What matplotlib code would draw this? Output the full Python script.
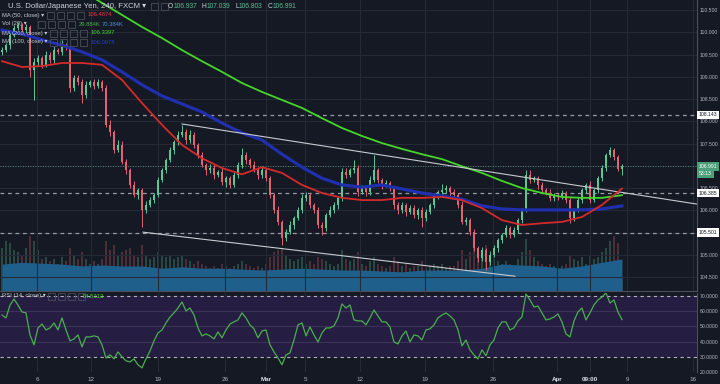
import matplotlib.pyplot as plt
from matplotlib.patches import Rectangle
import numpy as np

# USD/JPY 4h candles (FXCM)
closes = [109.60, 109.71, 109.94, 110.10, 110.16, 110.05, 110.12, 109.15, 109.33, 109.42,
          109.26, 109.49, 109.38, 109.60, 109.56, 109.71, 109.65, 108.75, 108.97, 108.88,
          108.59, 108.82, 108.88, 108.79, 108.88, 108.75, 107.92, 107.76, 107.35, 107.47,
          107.09, 106.90, 106.57, 106.34, 106.45, 106.01, 106.12, 106.23, 106.34, 106.68,
          106.90, 107.13, 107.35, 107.53, 107.69, 107.76, 107.58, 107.69, 107.47, 107.24,
          107.02, 106.90, 106.95, 106.79, 106.86, 106.63, 106.72, 106.57, 106.79, 107.02,
          107.24, 107.13, 107.02, 106.90, 106.79, 106.90, 106.72, 106.34, 106.01, 105.74,
          105.38, 105.51, 105.67, 105.83, 106.01, 106.27, 106.34, 106.12, 106.01, 105.67,
          105.60, 105.89, 106.01, 106.12, 106.27, 106.86, 106.79, 106.90, 106.95, 106.41,
          106.50, 106.41, 106.68, 106.90, 106.68, 106.57, 106.61, 106.50, 106.12, 106.01,
          106.12, 105.96, 106.05, 105.89, 106.01, 105.83, 105.96, 106.12, 106.34, 106.41,
          106.45, 106.50, 106.41, 106.34, 106.12, 105.74, 105.78, 105.51, 105.15, 104.93,
          105.11, 104.84, 105.00, 105.15, 105.33, 105.44, 105.60, 105.44, 105.56, 105.78,
          106.01, 106.79, 106.68, 106.72, 106.57, 106.45, 106.39, 106.27, 106.34, 106.30,
          106.39, 106.23, 105.83, 106.01, 106.23, 106.45, 106.57, 106.23, 106.45, 106.72,
          106.95, 107.24, 107.35, 107.20, 106.937, 106.991]
first_open = 109.55
wick_hi = [.08, .06, .05, .06, .08, .05, .06, .05, .10, .06,
           .05, .08, .06, .10, .05, .12, .06, .05, .08, .06,
           .06, .08, .05, .06, .08, .05, .06, .10, .05, .12,
           .08, .06, .05, .10, .06, .05, .08, .06, .05, .06,
           .06, .05, .08, .06, .10, .16, .06, .12, .06, .05,
           .06, .05, .08, .06, .05, .10, .06, .05, .08, .06,
           .16, .06, .05, .08, .06, .10, .05, .06, .05, .08,
           .05, .06, .08, .05, .06, .10, .08, .06, .05, .06,
           .06, .05, .08, .06, .05, .10, .08, .06, .18, .06,
           .06, .05, .08, .34, .06, .05, .08, .06, .05, .06,
           .06, .05, .08, .06, .05, .06, .08, .05, .06, .05,
           .15, .06, .05, .06, .05, .08, .06, .05, .06, .05,
           .06, .05, .08, .06, .05, .06, .08, .05, .06, .05,
           .05, .11, .12, .06, .05, .06, .05, .08, .06, .05,
           .06, .05, .06, .05, .08, .06, .05, .08, .06, .05,
           .06, .05, .07, .06, .05, .05]
wick_lo = [.06, .05, .08, .05, .06, .05, .06, .15, .67, .08,
           .06, .05, .08, .06, .05, .06, .05, .10, .06, .06,
           .18, .06, .05, .06, .05, .06, .05, .08, .06, .05,
           .06, .08, .06, .05, .08, .39, .06, .05, .06, .05,
           .05, .06, .05, .08, .06, .05, .10, .06, .08, .06,
           .05, .10, .06, .08, .05, .06, .10, .06, .05, .06,
           .06, .08, .06, .05, .08, .06, .05, .06, .08, .06,
           .16, .06, .05, .08, .05, .06, .05, .06, .08, .06,
           .16, .06, .05, .06, .08, .05, .06, .05, .06, .08,
           .05, .08, .06, .05, .06, .08, .05, .06, .08, .10,
           .06, .08, .05, .06, .08, .21, .06, .05, .06, .08,
           .05, .06, .08, .05, .06, .05, .08, .06, .06, .10,
           .06, .18, .06, .05, .08, .06, .05, .06, .05, .06,
           .06, .05, .06, .05, .08, .06, .05, .06, .05, .06,
           .05, .06, .12, .06, .05, .06, .05, .06, .05, .06,
           .05, .06, .05, .06, .06, .14]
volumes = [95, 110, 105, 90, 85, 80, 95, 120, 110, 90,
           70, 75, 65, 70, 60, 75, 65, 95, 80, 70,
           85, 70, 60, 65, 60, 70, 110, 90, 100, 80,
           85, 90, 95, 80, 75, 100, 80, 70, 75, 85,
           80, 75, 80, 70, 75, 80, 70, 65, 60, 65,
           60, 55, 50, 55, 50, 60, 55, 50, 55, 60,
           65, 60, 55, 50, 55, 50, 60, 75, 85, 90,
           95, 80, 70, 65, 70, 75, 60, 65, 60, 75,
           70, 65, 60, 55, 60, 90, 70, 65, 70, 85,
           60, 55, 65, 75, 60, 55, 50, 55, 75, 65,
           55, 60, 50, 55, 55, 65, 50, 55, 60, 55,
           60, 50, 55, 55, 65, 90, 70, 85, 105, 95,
           85, 100, 75, 70, 65, 60, 65, 60, 55, 70,
           85, 115, 90, 75, 65, 60, 55, 60, 55, 50,
           55, 60, 80, 70, 65, 75, 60, 80, 70, 75,
           85, 95, 110, 120, 105, 30]
rsi = [57.5, 55.6, 64, 68, 64, 59.5, 58.9, 44.4, 37.9, 49,
       51.6, 47.7, 49, 52.3, 47.7, 55.6, 47.7, 40.5, 41.8, 44.4,
       36.6, 43.1, 43.1, 43.8, 43.1, 37.9, 29.3, 31.3, 28.7, 33.3,
       30, 27.4, 26.7, 28.7, 24.8, 22.8, 28.7, 33.9, 40.5, 45.7,
       47.7, 52.3, 56.2, 58.9, 62.1, 66.1, 60.2, 62.1, 57.5, 49,
       43.8, 45.1, 43.8, 41.8, 46.4, 42.5, 47.7, 51.6, 53, 54.3,
       58.9, 55.6, 51, 48.4, 42.5, 47, 47.7, 37.9, 33.3, 29.3,
       24.8, 31.3, 32.6, 41.1, 51, 52.3, 43.8, 49.7, 44.4, 39.8,
       45.7, 49, 49, 50.3, 55.6, 64.8, 62.1, 64.1, 54.3, 53.6,
       53.6, 51, 55.6, 60.8, 56.9, 53, 53, 49.7, 39.8, 38.5,
       43.8, 47, 39.8, 44.4, 43.8, 41.1, 47.7, 48.4, 51, 55.6,
       57.5, 58.9, 56.9, 54.3, 47.7, 37.2, 41.1, 34.6, 31.3, 28.7,
       34.6, 30.7, 37.9, 41.1, 49, 53, 53, 47.7, 49, 53.6,
       56.2, 71.3, 67.4, 62.8, 63.4, 58.9, 54.3, 54.9, 56.2, 58.2,
       53, 45.1, 43.1, 53.6, 59.5, 62.1, 54.3, 58.9, 64.1, 67.4,
       69.3, 72, 65.4, 67.4, 59.5, 54.5]

# moving averages and volume MA, one value every 5 bars
ma_step = 5
ma50 = [109.35, 109.22, 109.24, 109.31, 109.31, 109.27, 108.93, 108.41, 107.92, 107.47,
        107.17, 106.95, 106.81, 106.97, 106.84, 106.57, 106.39, 106.28, 106.23, 106.23,
        106.28, 106.28, 106.30, 106.23, 106.05, 105.78, 105.67, 105.71, 105.74, 105.85,
        106.12, 106.49]
ma100 = [110.05, 109.96, 109.83, 109.71, 109.56, 109.38, 109.11, 108.82, 108.57, 108.39,
         108.21, 107.96, 107.74, 107.58, 107.26, 106.97, 106.72, 106.57, 106.52, 106.57,
         106.48, 106.39, 106.32, 106.25, 106.10, 106.03, 106.01, 106.01, 106.01, 106.01,
         106.03, 106.10]
ma200 = [np.nan, np.nan, np.nan, np.nan, 110.93, 110.66, 110.39, 110.12, 109.87, 109.60,
         109.35, 109.11, 108.86, 108.66, 108.48, 108.30, 108.07, 107.85, 107.67, 107.51,
         107.38, 107.26, 107.15, 106.99, 106.84, 106.66, 106.50, 106.39, 106.30, 106.28,
         106.28, 106.34]
vol_ma = [59, 63, 61, 59, 55, 57, 55, 55, 50, 53, 50, 50, 48, 46, 48, 50,
          48, 46, 46, 44, 42, 46, 46, 46, 50, 59, 57, 55, 50, 55, 63, 70.4]

# drawn levels and trend lines (bar index, price)
levels = [108.143, 106.385, 105.501]
last_price = 106.991
trend_upper = [(45, 107.94), (173.75, 106.14)]
trend_lower = [(35.25, 105.51), (128.25, 104.52)]

price_ticks = np.arange(104.5, 110.51, 0.5)
rsi_ticks = [20, 30, 40, 50, 60, 70]
date_labels = ['6', '12', '19', '26', 'Mar', '5', '12', '19', '26', 'Apr', '09:00', '9', '16']
date_pos = [8.75, 22.25, 39, 55.75, 66, 75.75, 89.5, 105.75, 122.75, 138.75, 147, 156.25, 172.75]

plt.rcParams['font.family'] = ['Liberation Sans', 'DejaVu Sans']

BG = '#151924'
GRID = '#262a36'
TXT = '#b2b5be'
UP = '#5fc592'
DOWN = '#e0646e'
SMALL = 3.7

closes = np.array(closes)
opens = np.r_[first_open, closes[:-1]]
highs = np.maximum(opens, closes) + np.array(wick_hi)
lows = np.minimum(opens, closes) - np.array(wick_lo)
idx = np.arange(len(closes))
ma_idx = np.arange(0, len(closes), ma_step)
colors = np.where(closes >= opens, UP, DOWN)

fig = plt.figure(figsize=(7.2, 3.84), dpi=100, facecolor=BG)
ax = fig.add_axes([0, 0.242, 0.968, 0.758])
rax = fig.add_axes([0, 0.031, 0.968, 0.206], sharex=ax)

# volume bars + volume MA area behind the price panel
vax = ax.twinx()
vax.bar(idx, volumes, width=0.6, color=colors, alpha=0.28, lw=0)
vax.fill_between(ma_idx, vol_ma, 0, color='#1f5f8c', lw=0)
vax.set_ylim(0, 637)
vax.set_yticks([])
for s in vax.spines.values():
    s.set_visible(False)
ax.set_zorder(vax.get_zorder() + 1)
ax.patch.set_visible(False)

for a in (ax, rax):
    a.set_facecolor(BG)
    for s in a.spines.values():
        s.set_visible(False)
    a.spines['right'].set_visible(True)
    a.spines['right'].set_color('#4a4e5a')
    a.yaxis.tick_right()
    a.tick_params(axis='both', length=0, labelsize=SMALL, colors=TXT, pad=1.8)
    for p in date_pos:
        a.axvline(p, color=GRID, lw=0.8, zorder=0)
ax.spines['bottom'].set_visible(True)
ax.spines['bottom'].set_color('#4a4e5a')

# price panel
for p in price_ticks:
    ax.axhline(p, color=GRID, lw=0.8, zorder=0)
for lv in levels:
    ax.axhline(lv, color='#9a9ca5', lw=0.9, ls=(0, (3, 3)), zorder=1)
ax.axhline(last_price, color='#4f9f7c', lw=0.6, ls=(0, (1, 2)), zorder=1)

ax.vlines(idx, lows, highs, colors=colors, lw=0.7, zorder=3)
ax.bar(idx, np.maximum(np.abs(closes - opens), 0.01), bottom=np.minimum(opens, closes),
       width=0.6, color=colors, lw=0, zorder=3)

ax.plot(ma_idx, ma200, color='#45d62a', lw=1.3, zorder=4)
ax.plot(ma_idx, ma100, color='#1f2fae', lw=2.3, zorder=4)
ax.plot(ma_idx, ma50, color='#d42a2a', lw=1.3, zorder=5)

for (x0, y0), (x1, y1) in (trend_upper, trend_lower):
    ax.plot([x0, x1], [y0, y1], color='#c8cad0', lw=0.8, zorder=4)

ax.set_ylim(104.186, 110.725)
ax.set_xlim(-0.5, 173.75)
ax.set_yticks(price_ticks)
ax.set_yticklabels([f'{p:.3f}' for p in price_ticks])
ax.tick_params(axis='x', labelbottom=False)

tr = ax.get_yaxis_transform()
box = dict(boxstyle='square,pad=0.35', ec='none')
for lv in levels:
    ax.text(1.003, lv, f'{lv:.3f}', transform=tr, fontsize=SMALL, color='#131722', va='center',
            ha='left', bbox=dict(box, fc='white'), zorder=10, clip_on=False)
ax.text(1.003, last_price, f'{last_price:.3f}', transform=tr, fontsize=SMALL, color='white',
        va='center', ha='left', bbox=dict(box, fc='#4c9f78'), zorder=10, clip_on=False)
ax.text(1.003, last_price - 0.17, '53:13', transform=tr, fontsize=SMALL, color='white',
        va='center', ha='left', bbox=dict(box, fc='#4c9f78'), zorder=10, clip_on=False)

# RSI panel
rax.axhspan(30, 70, color='#261d42', lw=0, zorder=0)
for v in (40, 50, 60):
    rax.axhline(v, color='#3a3356', lw=0.8, zorder=0)
for v in (30, 70):
    rax.axhline(v, color='#b0b2ba', lw=0.8, ls=(0, (3, 3)), zorder=1)
rax.plot(idx, rsi, color='#48b04c', lw=0.9, zorder=3)
rax.set_ylim(20.16, 71.97)
rax.set_yticks(rsi_ticks)
rax.set_yticklabels([f'{v:.4f}' for v in rsi_ticks])
rax.set_xticks(date_pos)
rax.set_xticklabels(date_labels)
rax.tick_params(axis='x', labelsize=4.5, pad=3.5)
for lab in rax.get_xticklabels():
    if lab.get_text() in ('Mar', 'Apr', '09:00'):
        lab.set_color('#e0e3eb')
        lab.set_fontweight('bold')


# legend rows (top-left)
def icons(x0, y0, n):
    for k in range(n):
        fig.patches.append(Rectangle(((x0 + 10 * k) / 720, 1 - (y0 + 3.5) / 384), 7 / 720, 7 / 384,
                                     transform=fig.transFigure, fill=False, ec='#4a4e5a', lw=0.6))


fig.text(8 / 720, 1 - 6 / 384, 'U.S. Dollar/Japanese Yen, 240, FXCM \u25be', fontsize=5.6,
         color='#d1d4dc', va='center')
icons(151, 6, 2)
prev = None
for key, val in (('O', '106.937'), ('H', '107.039'), ('L', '106.803'), ('C', '106.991')):
    if prev is None:
        t = fig.text(168 / 720, 1 - 6 / 384, key, fontsize=4.8, color='#d1d4dc', va='center')
    else:
        t = ax.annotate(key, xy=(1, 0), xycoords=prev, xytext=(3.5, 0), textcoords='offset points',
                        fontsize=4.8, color='#d1d4dc', va='bottom', annotation_clip=False)
    prev = ax.annotate(val, xy=(1, 0), xycoords=t, fontsize=4.8, color='#5fbf8f', va='bottom',
                       annotation_clip=False)

rows = [('MA (50, close) \u25be', 15, 47, [('106.4874', '#e0413f')]),
        ('Vol (20) \u25be', 24, 38, [('29.884K', '#4caf50'), ('70.384K', '#4a8fd6')]),
        ('MA (200, close) \u25be', 33, 50, [('106.3397', '#45d62a')]),
        ('MA (100, close) \u25be', 42, 50, [('106.0978', '#2a3cc0')])]
for name, y, ix, vals in rows:
    fig.text(2 / 720, 1 - y / 384, name, fontsize=4.2, color='#c8cad0', va='center')
    icons(ix, y, 4)
    vx = ix + 41
    for v, c in vals:
        fig.text(vx / 720, 1 - y / 384, v, fontsize=4.2, color=c, va='center')
        vx += 23

fig.text(2 / 720, 1 - 296 / 384, 'RSI (14, close) \u25be', fontsize=4.2, color='#c8cad0', va='center')
icons(48, 296, 4)
fig.text(83 / 720, 1 - 296 / 384, '54.5313', fontsize=4.2, color='#45d62a', va='center')

fig.savefig('out.png', dpi=100, facecolor=BG)
